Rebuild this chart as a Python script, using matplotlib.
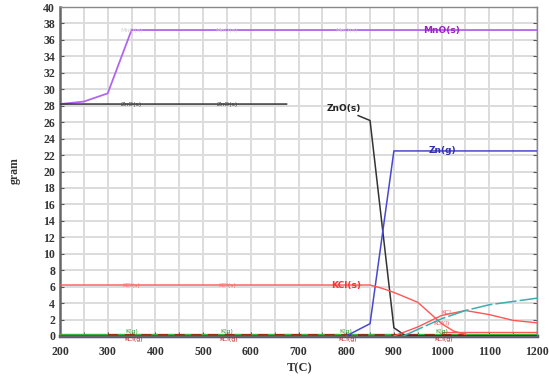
import numpy as np
import matplotlib
matplotlib.use("Agg")
import matplotlib.pyplot as plt

# ---- data ----
mno_T = [200, 250, 300, 350, 1200]
mno_v = [28.2, 28.5, 29.5, 37.2, 37.2]

zno_T = [200, 675, 700, 825, 850, 900, 925, 1200]
zno_v = [28.2, 28.2, np.nan, 26.8, 26.2, 1.0, 0.0, 0.0]

zng_T = [200, 800, 850, 900, 1200]
zng_v = [0.0, 0.0, 1.5, 22.5, 22.5]

kcls_T = [200, 850, 875, 900, 950, 975, 1000, 1025, 1050]
kcls_v = [6.2, 6.2, 5.8, 5.3, 4.1, 2.8, 1.5, 0.6, 0.2]

kcll_T = [900, 950, 1000, 1050, 1100, 1150, 1200]
kcll_v = [0.0, 1.1, 2.5, 3.1, 2.6, 1.9, 1.6]

teal_T = [920, 950, 1000, 1050, 1100, 1150, 1200]
teal_v = [0.0, 0.8, 2.1, 3.1, 3.8, 4.2, 4.6]

red_low_T = [1000, 1200]
red_low_v = [0.5, 0.5]

green_T = [200, 1200]
green_v = [0.3, 0.3]

navy_T = [200, 1200]
navy_v = [0.0, 0.0]

dred_T = [300, 450, 800, 1050]
dred_v = [0.08, 0.08, 0.08, 0.08]

x_ticks = [200, 300, 400, 500, 600, 700, 800, 900, 1000, 1100, 1200]
y_ticks = list(range(0, 41, 2))

fig = plt.figure(figsize=(5.49, 3.79), dpi=100)
ax = fig.add_axes([60/549, 1-336/379, (537-60)/549, (336-7)/379])

# grid
for xv in range(200, 1201, 50):
    ax.axvline(xv, color="#dcdcdc", lw=1.4, zorder=0)
for yv in y_ticks:
    ax.axhline(yv, color="#dcdcdc", lw=1.4, zorder=0)

ax.plot(navy_T, navy_v, color="#3a3f8a", lw=2.5, zorder=2, clip_on=False)
ax.plot(green_T, green_v, color="#3cb43c", lw=1.0, zorder=3)
ax.plot(dred_T, dred_v, color="#a01818", lw=1.2, ls=(0, (6, 4)), zorder=3)
ax.plot(red_low_T, red_low_v, color="#ff5a5a", lw=1.0, zorder=3)
ax.plot(mno_T, mno_v, color="#b066f0", lw=1.3, zorder=4)
ax.plot(zno_T, zno_v, color="#333333", lw=1.1, zorder=4)
ax.plot(zng_T, zng_v, color="#4848d0", lw=1.1, zorder=4)
ax.plot(kcls_T, kcls_v, color="#ff5555", lw=1.0, zorder=4)
ax.plot(kcll_T, kcll_v, color="#ff5555", lw=1.0, zorder=4)
ax.plot(teal_T, teal_v, color="#3aaeb0", lw=1.1, ls=(0, (14, 2)), zorder=4)

# faint labels along lines
for xv in [350, 550, 800]:
    ax.text(xv, 37.2, "MnO(s)", color="#cfcfcf", fontsize=4.5, ha="center", va="center", zorder=5)
for xv in [350, 550]:
    ax.text(xv, 28.2, "ZnO(s)", color="#444444", fontsize=4.5, ha="center", va="center", zorder=5)
    ax.text(xv, 6.2, "KCl(s)", color="#ff6b6b", fontsize=4.5, ha="center", va="center", zorder=5)

# bold labels
ax.text(1000, 37.2, "MnO(s)", color="#a020c0", fontsize=6.5, fontweight="bold", ha="center", va="center", zorder=6)
ax.text(795, 27.6, "ZnO(s)", color="#222222", fontsize=6.5, fontweight="bold", ha="center", va="center", zorder=6)
ax.text(1002, 22.5, "Zn(g)", color="#3030b0", fontsize=6.5, fontweight="bold", ha="center", va="center", zorder=6)
ax.text(800, 6.2, "KCl(s)", color="#ff3030", fontsize=6.5, fontweight="bold", ha="center", va="center", zorder=6)

# small clustered labels near zero
for xv in [350, 550, 800, 1000]:
    ax.text(xv, 0.55, "K(g)", color="#2a9a2a", fontsize=4.5, ha="center", va="center", zorder=6)
    ax.text(xv + 4, -0.45, "KCl(g)", color="#c02020", fontsize=4.5, ha="center", va="center", zorder=6)
ax.text(1000, 1.5, "KCl(l)", color="#ff5050", fontsize=4.5, ha="center", va="center", zorder=6)
ax.text(1010, 2.8, "KCl", color="#ff5050", fontsize=4.5, ha="center", va="center", zorder=6)

ax.set_xlim(200, 1200)
ax.set_ylim(0, 40)
ax.set_xticks(x_ticks)
ax.set_yticks(y_ticks)
ax.set_xticks(list(range(250, 1200, 100)), minor=True)
ax.tick_params(axis="both", which="both", direction="in", length=3, color="#555555",
               labelsize=8.5, top=False, right=True)
ax.tick_params(axis="x", pad=7)
for lab in ax.get_xticklabels() + ax.get_yticklabels():
    lab.set_fontfamily("Liberation Serif")
    lab.set_fontweight("bold")
    lab.set_color("#333333")

for s in ["top", "right"]:
    ax.spines[s].set_color("#888888")
    ax.spines[s].set_linewidth(1.0)
for s in ["left", "bottom"]:
    ax.spines[s].set_color("#666666")
    ax.spines[s].set_linewidth(1.8)

fig.text(15/549, 1-171/379, "gram", rotation=90, ha="center", va="center",
         fontfamily="Liberation Serif", fontweight="bold", fontsize=8.5, color="#333333")
fig.text(300/549, 1-368/379, "T(C)", ha="center", va="center",
         fontfamily="Liberation Serif", fontweight="bold", fontsize=9, color="#333333")

fig.savefig("out.png", dpi=100)
